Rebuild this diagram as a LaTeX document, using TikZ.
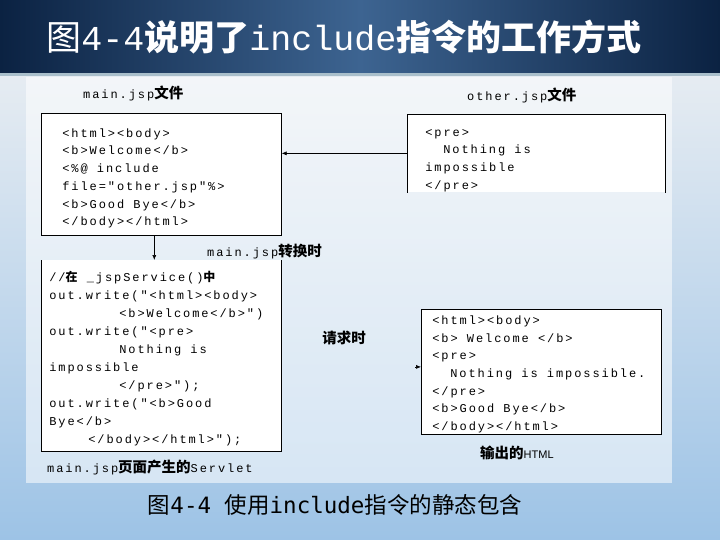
\documentclass[tikz,border=0pt]{standalone}
\usepackage{fontspec}
\setmainfont{Liberation Sans}
\newfontfamily\cjk{Noto Sans CJK SC}
\newfontfamily\codefamily{Liberation Mono}[LetterSpace=16]
\newfontfamily\monofont{Liberation Mono}
\newfontfamily\capmono{DejaVu Sans Mono}
\usetikzlibrary{arrows.meta, positioning, calc}

\definecolor{bandDark}{HTML}{0B2242}
\definecolor{bandMid}{HTML}{3D6491}
\definecolor{pageTop}{HTML}{E6ECF2}
\definecolor{pageBot}{HTML}{9DC3E6}
\definecolor{bandLine}{HTML}{A9BFCB}

\newcommand\codefont[1]{\codefamily\fontsize{12}{#1}\selectfont}
\newcommand\ws{\hspace*{9.2pt}}% one code character wide
\newcommand\topgap[1]{\rule{0pt}{#1}}
\newcommand\botgap[1]{\rule[-#1]{0pt}{#1}}

\begin{document}
\begin{tikzpicture}[
    x=1pt, y=-1pt,
    >=Latex,
    codebox/.style={rectangle, draw=black, semithick, fill=white, anchor=north west, align=left, inner xsep=0pt, inner ysep=0pt, font=\codefont{17.7}},
    openbox/.style={codebox, draw=none},
    tag/.style={inner sep=0pt, font=\codefont{14}},
    cjktag/.style={inner sep=0pt, font=\cjk\bfseries\fontsize{14.5}{16}\selectfont},
    arrow/.style={draw=black, semithick, -{Latex[length=5pt, width=4pt]}}
]
    \useasboundingbox (0,0) rectangle (720,540);

    % Slide background and title band
    \shade[top color=pageTop, bottom color=pageBot] (0,74) rectangle (720,540);
    \shade[left color=bandDark, right color=bandDark, middle color=bandMid] (0,0) rectangle (720,73);
    \fill[bandLine] (0,73) rectangle (720,76);
    \fill[white, opacity=0.55] (26,77) rectangle (672,483);

    \node[text=white, inner sep=0pt, font=\fontsize{35}{40}\selectfont] (title) at (344,37)
        {{\cjk 图}{\monofont 4-4}{\cjk\bfseries 说明了}{\monofont include}{\cjk\bfseries 指令的工作方式}};

    % Source files
    \node[codebox, text width=198pt, inner xsep=21pt] (main) at (41,113)
        {\topgap{24pt}<html><body>\\
         <b>Welcome</b>\\
         <\%@\ws include\\
         file="other.jsp"\%>\\
         <b>Good\ws Bye</b>\\
         </body></html>\botgap{9pt}};
    \node[tag, anchor=west] (mainlabel) at (83,93) {main.jsp{\cjk\bfseries\fontsize{14.5}{16}\selectfont 文件}};

    \node[openbox, text width=222pt, inner xsep=18pt] (other) at (407,114)
        {\topgap{22pt}<pre>\\
         \hspace*{18pt}Nothing\ws is\\
         impossible\\
         </pre>\botgap{3pt}};
    \draw[semithick] (other.south west) -- (other.north west) -- (other.north east) -- (other.south east);
    \node[tag, anchor=west] (otherlabel) at (467,95) {other.jsp{\cjk\bfseries\fontsize{14.5}{16}\selectfont 文件}};

    \draw[arrow] (other.west) -- (other.west -| main.east);

    % Generated servlet
    \node[openbox, text width=224pt, inner xsep=8pt, font=\codefont{18}] (servlet) at (41,260)
        {\topgap{21pt}//{\cjk\bfseries 在}\ws\_jspService(){\cjk\bfseries 中}\\
         out.write("<html><body>\\
         \hspace*{70pt}<b>Welcome</b>")\\
         out.write("<pre>\\
         \hspace*{70pt}Nothing\ws is\\
         impossible\\
         \hspace*{70pt}</pre>");\\
         out.write("<b>Good\\
         Bye</b>\\
         \hspace*{39pt}</body></html>");\botgap{8pt}};
    \draw[semithick] (servlet.north west) -- (servlet.south west) -- (servlet.south east) -- (servlet.north east);
    \node[tag, anchor=west] (convlabel) at (207,252) {main.jsp{\cjk\bfseries\fontsize{14.5}{16}\selectfont 转换时}};
    \node[tag, anchor=west] (servletlabel) at (47,467) {main.jsp{\cjk\bfseries\fontsize{14.5}{16}\selectfont 页面产生的}Servlet};

    \draw[arrow] ([xshift=-7pt]main.south) -- ([xshift=-7pt]servlet.north);

    % Output HTML
    \node[codebox, text width=218pt, inner xsep=11pt] (html) at (421,309)
        {\topgap{15pt}<html><body>\\
         <b>\ws Welcome\ws </b>\\
         <pre>\\
         \hspace*{18pt}Nothing\ws is\ws impossible.\\
         </pre>\\
         <b>Good\ws Bye</b>\\
         </body></html>\botgap{4pt}};
    \node[inner sep=0pt, anchor=west] (outlabel) at (480,453) {{\cjk\bfseries\fontsize{14.5}{16}\selectfont 输出的}{\fontsize{11}{13}\selectfont HTML}};
    \node[cjktag] (reqlabel) at (344,338) {请求时};

    \coordinate (reqtail) at ($([yshift=5pt]html.west)+(-6,0)$);
    \draw[arrow] (reqtail) -- ([yshift=5pt]html.west);

    % Caption
    \node[inner sep=0pt, font=\fontsize{22.5}{26}\selectfont] (caption) at (335,505)
        {{\cjk 图}{\capmono 4-4 }{\cjk 使用}{\capmono include}{\cjk 指令的静态包含}};
\end{tikzpicture}
\end{document}
